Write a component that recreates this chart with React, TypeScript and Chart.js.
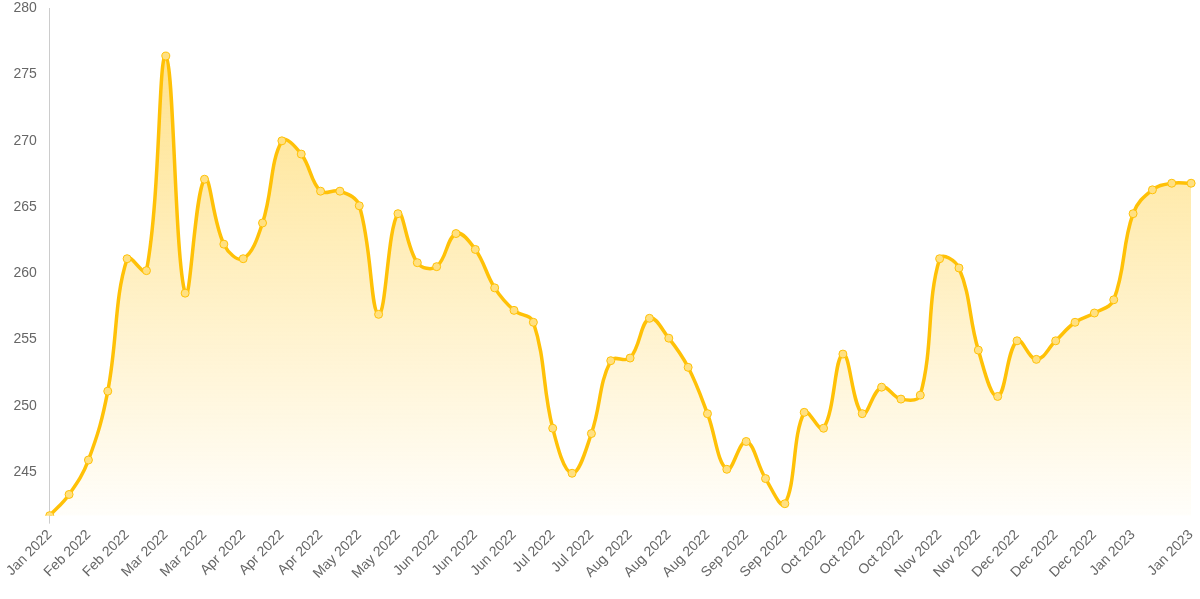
import React, { useEffect, useRef } from "react";
import { Chart, registerables } from "chart.js";

Chart.register(...registerables);

const labels: string[] = [
  "Jan 2022", "Jan 2022",
  "Feb 2022", "Feb 2022", "Feb 2022", "Feb 2022",
  "Mar 2022", "Mar 2022", "Mar 2022", "Mar 2022",
  "Apr 2022", "Apr 2022", "Apr 2022", "Apr 2022", "Apr 2022",
  "May 2022", "May 2022", "May 2022", "May 2022", "May 2022",
  "Jun 2022", "Jun 2022", "Jun 2022", "Jun 2022", "Jun 2022",
  "Jul 2022", "Jul 2022", "Jul 2022", "Jul 2022",
  "Aug 2022", "Aug 2022", "Aug 2022", "Aug 2022", "Aug 2022", "Aug 2022",
  "Sep 2022", "Sep 2022", "Sep 2022", "Sep 2022",
  "Oct 2022", "Oct 2022", "Oct 2022", "Oct 2022", "Oct 2022", "Oct 2022",
  "Nov 2022", "Nov 2022", "Nov 2022", "Nov 2022",
  "Dec 2022", "Dec 2022", "Dec 2022", "Dec 2022", "Dec 2022", "Dec 2022",
  "Jan 2023", "Jan 2023", "Jan 2023", "Jan 2023", "Jan 2023",
];

const values: number[] = [
  241.7, 243.3, 245.9, 251.1, 261.1, 260.2, 276.4, 258.5, 267.1, 262.2,
  261.1, 263.8, 270.0, 269.0, 266.2, 266.2, 265.1, 256.9, 264.5, 260.8,
  260.5, 263.0, 261.8, 258.9, 257.2, 256.3, 248.3, 244.9, 247.9, 253.4,
  253.6, 256.6, 255.1, 252.9, 249.4, 245.2, 247.3, 244.5, 242.6, 249.5,
  248.3, 253.9, 249.4, 251.4, 250.5, 250.8, 261.1, 260.4, 254.2, 250.7,
  254.9, 253.5, 254.9, 256.3, 257.0, 258.0, 264.5, 266.3, 266.8, 266.8,
];

const yMax = 280;
const yStep = 5;

export default function App() {
  const ref = useRef<HTMLCanvasElement | null>(null);

  useEffect(() => {
    document.body.style.margin = "0";
    document.body.style.overflow = "hidden";
    if (!ref.current) return;
    const last = labels.length - 1;
    const chart = new Chart(ref.current, {
      type: "line",
      data: {
        labels,
        datasets: [
          {
            data: values,
            borderColor: "#FFC107",
            borderWidth: 3.5,
            tension: 0.4,
            fill: "start",
            backgroundColor: (ctx: any) => {
              const { chart } = ctx;
              const area = chart.chartArea;
              if (!area) return "rgba(255,193,7,0.3)";
              const g = chart.ctx.createLinearGradient(0, area.top, 0, area.bottom);
              g.addColorStop(0, "rgba(255,193,7,0.5)");
              g.addColorStop(1, "rgba(255,193,7,0.02)");
              return g;
            },
            pointRadius: 4,
            pointBorderWidth: 1,
            pointBackgroundColor: "#FFE082",
            pointBorderColor: "#FFC107",
          },
        ],
      },
      options: {
        animation: false,
        responsive: true,
        maintainAspectRatio: false,
        plugins: { legend: { display: false }, tooltip: { enabled: false } },
        scales: {
          x: {
            grid: {
              display: true,
              drawOnChartArea: false,
              color: (c: any) => (c.index === 0 ? "rgba(0,0,0,0.2)" : "rgba(0,0,0,0)"),
            },
            border: { display: false },
            ticks: {
              autoSkip: false,
              maxRotation: 45,
              minRotation: 45,
              color: "#666",
              font: { size: 14 },
              callback: (_v: any, i: number) =>
                (i % 2 === 0 && i < last - 2) || i === last ? labels[i] : "",
            },
          },
          y: {
            min: Math.min(...values),
            max: yMax,
            grid: { display: false },
            border: { color: "rgba(0,0,0,0.2)" },
            ticks: {
              stepSize: yStep,
              includeBounds: false,
              padding: 5,
              color: "#666",
              font: { size: 14 },
            },
          },
        },
      },
    });
    return () => chart.destroy();
  }, []);

  return (
    <div style={{ width: 1200, height: 599, position: "relative", overflow: "hidden" }}>
      <div style={{ position: "absolute", left: 6, top: -5, width: 1200, height: 590 }}>
        <canvas ref={ref} />
      </div>
    </div>
  );
}
